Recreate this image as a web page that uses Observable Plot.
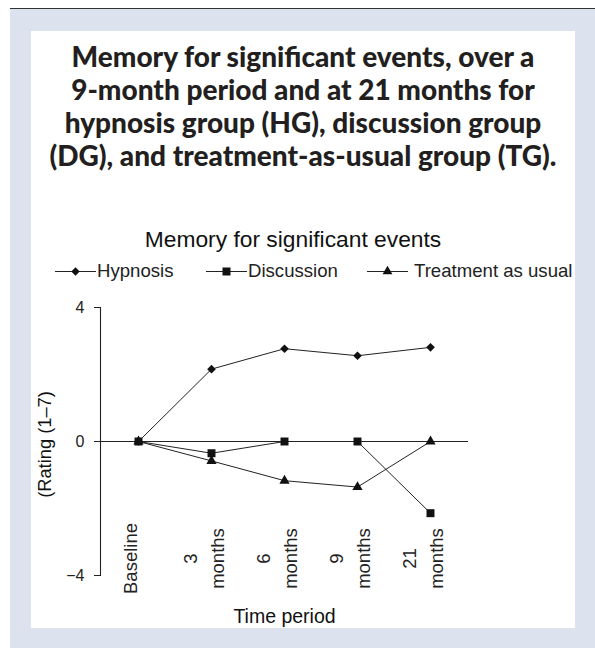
<!DOCTYPE html>
<html><head><meta charset="utf-8">
<script src="https://cdn.jsdelivr.net/npm/d3@7"></script>
<script src="https://cdn.jsdelivr.net/npm/@observablehq/plot@0.6"></script>
<style>
html,body{margin:0;padding:0;background:#fff;width:595px;height:648px;overflow:hidden;}
#outer{position:absolute;left:10px;top:8px;width:585px;height:640px;background:#dce3ee;border-top:1.5px solid #333;box-sizing:border-box;}
#panel{position:absolute;left:31px;top:31px;width:544px;height:597px;background:#fff;}
#title{position:absolute;left:31px;width:544px;top:40px;text-align:center;font-family:Lato,sans-serif;font-weight:900;font-size:28px;line-height:33px;color:#231f20;white-space:pre;}
#ctitle{position:absolute;left:0;width:586px;top:228px;text-align:center;font-family:"Liberation Sans",Arial,sans-serif;font-size:22.8px;line-height:22.8px;color:#111;}
.leg{position:absolute;top:261px;font-family:"Liberation Sans",Arial,sans-serif;font-size:18.6px;line-height:19px;color:#222;white-space:nowrap;display:flex;align-items:center;}
.leg svg{display:block;margin-right:1px;}
#chart{position:absolute;left:0;top:0;}
</style></head>
<body>
<div id="outer"></div>
<div id="panel"></div>
<div id="title"></div>
<div id="ctitle"></div>
<div id="legend"></div>
<div id="chart"></div>
<script>
const titleLines = ["Memory for significant events, over a","9-month period and at 21 months for","hypnosis group (HG), discussion group","(DG), and treatment-as-usual group (TG)."];
const chartTitle = "Memory for significant events";
const periods = ["Baseline","3 months","6 months","9 months","21 months"];
const periodLabels = ["Baseline","3\nmonths","6\nmonths","9\nmonths","21\nmonths"];
const groups = ["Hypnosis","Discussion","Treatment as usual"];
const symbols = ["diamond2","square","triangle"];
const hypnosis = [0, 2.16, 2.77, 2.56, 2.81];
const discussion = [0, -0.35, 0, 0, -2.14];
const treatment = [0, -0.58, -1.17, -1.36, 0];
const yTicks = [-4, 0, 4];
const yTickLabels = ["\u22124", "0", "4"];
const yLabel = "(Rating (1\u20137)";
const xLabel = "Time period";

document.getElementById("title").textContent = titleLines.join("\n");
document.getElementById("ctitle").textContent = chartTitle;

const seriesValues = [hypnosis, discussion, treatment];
const rows = [];
groups.forEach((g, gi) => periods.forEach((p, i) => rows.push({group: g, period: p, value: seriesValues[gi][i]})));

// legend
const legLeft = [55, 206, 367];
const legGap = [1, 1, 6];
const symSize = {diamond2: 45, square: 64, triangle: 42};
const d3sym = {diamond2: d3.symbolDiamond2, square: d3.symbolSquare, triangle: d3.symbolTriangle};
const legend = document.getElementById("legend");
groups.forEach((g, i) => {
  const div = document.createElement("div");
  div.className = "leg";
  div.style.left = legLeft[i] + "px";
  const w = 41;
  const path = d3.symbol(d3sym[symbols[i]], symSize[symbols[i]])();
  div.innerHTML = `<svg width="${w}" height="14" style="margin-right:${legGap[i]}px"><line x1="0" x2="${w}" y1="7.5" y2="7.5" stroke="#222" stroke-width="1.2"/><path transform="translate(${w/2},7.5)" d="${path}" fill="#111"/></svg><span>${g}</span>`;
  legend.appendChild(div);
});

const dotR = {diamond2: 3.9, square: 4.5, triangle: 3.8};
const order = [2, 0, 1];
const font = "Liberation Sans, Arial, sans-serif";

const chart = Plot.plot({
  width: 595, height: 648,
  marginLeft: 100, marginRight: 127, marginTop: 307, marginBottom: 73,
  style: {background: "transparent", overflow: "visible", fontFamily: font, color: "#222"},
  x: {type: "point", domain: periods, padding: 0.5, axis: null},
  y: {domain: [-4, 4], axis: null},
  marks: [
    Plot.ruleY([0], {stroke: "#222", strokeWidth: 1.1}),
    Plot.frame({anchor: "left", stroke: "#222", strokeWidth: 1.1}),
    Plot.axisY({ticks: yTicks, tickSize: 6, label: null, stroke: "#222", tickFormat: () => ""}),
    Plot.text(yTicks, {y: d => d, text: (d, i) => yTickLabels[i], frameAnchor: "left", textAnchor: "end",
      dx: -16, fontSize: 16, fill: "#222", fontFamily: font}),
    Plot.line(rows, {x: "period", y: "value", z: "group", stroke: "#222", strokeWidth: 1}),
    ...order.map(gi => Plot.dot(rows.filter(r => r.group === groups[gi]), {
      x: "period", y: "value", symbol: () => symbols[gi], r: dotR[symbols[gi]], fill: "#111", stroke: "none"
    })),
    Plot.text(periods, {x: d => d, text: (d, i) => periodLabels[i], frameAnchor: "bottom",
      rotate: -90, textAnchor: "middle", lineAnchor: "middle", lineHeight: 1.5,
      dy: -17, dx: -10, fontSize: 18.5, fill: "#222", fontFamily: font}),
    Plot.text([yLabel], {frameAnchor: "left", rotate: -90, textAnchor: "middle", lineAnchor: "middle",
      dx: -55, dy: 3, fontSize: 18.3, fill: "#111", fontFamily: font}),
    Plot.text([xLabel], {frameAnchor: "bottom", lineAnchor: "bottom", dy: 47, fontSize: 19.5,
      fill: "#111", fontFamily: font})
  ]
});
document.getElementById("chart").appendChild(chart);
</script>
</body></html>
